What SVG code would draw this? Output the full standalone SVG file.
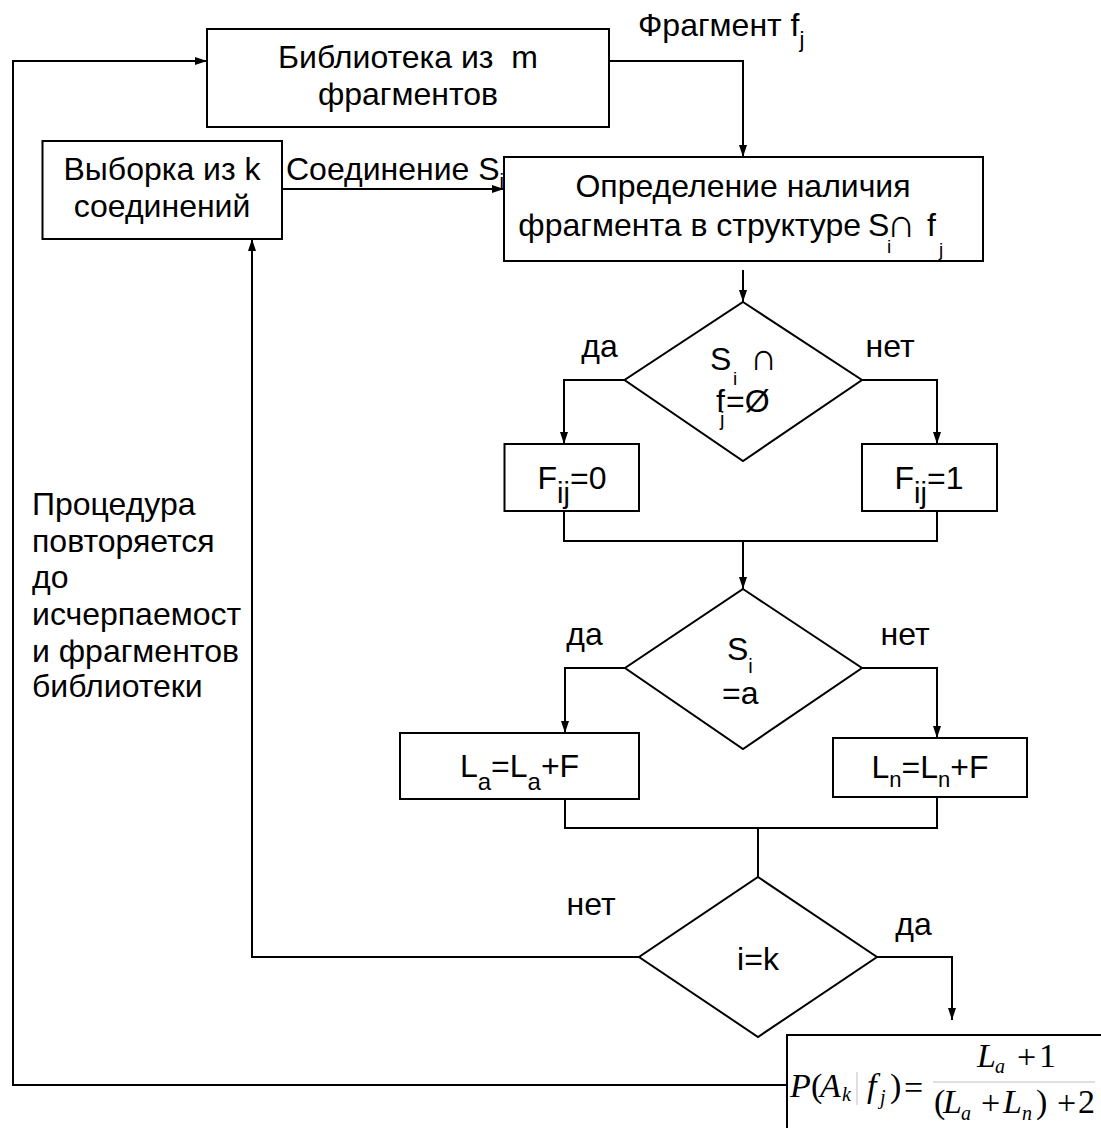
<svg xmlns="http://www.w3.org/2000/svg" width="1101" height="1128" viewBox="0 0 1101 1128">
<defs>
<style>
.box{fill:#fff;stroke:#000;stroke-width:2}
.ln{fill:none;stroke:#000;stroke-width:2}
.t{font-family:"Liberation Sans",Arial,sans-serif;font-size:32px;fill:#000}
.m{text-anchor:middle}
.cap{font-family:"DejaVu Sans",sans-serif;font-weight:200}
.f{font-family:"Liberation Serif","Times New Roman",serif;font-style:italic;font-size:34px;fill:#000}
.fr{font-family:"Liberation Serif","Times New Roman",serif;font-style:normal;font-size:34px;fill:#000}
.fs{font-family:"Liberation Serif","Times New Roman",serif;font-style:italic;font-size:20px;fill:#000}
</style>
<marker id="arr" viewBox="0 0 12 8" refX="12" refY="4" markerWidth="12" markerHeight="8" markerUnits="userSpaceOnUse" orient="auto"><path d="M0,0 L12,4 L0,8 z" fill="#000"/></marker>
</defs>
<rect width="1101" height="1128" fill="#fff"/>
<g id="connectors">
<path class="ln" d="M787,1085 H13 V61 H207" marker-end="url(#arr)"/>
<path class="ln" d="M609,61 H743 V157" marker-end="url(#arr)"/>
<path class="ln" d="M282,189 H504" marker-end="url(#arr)"/>
<path class="ln" d="M743,270 V302" marker-end="url(#arr)"/>
<path class="ln" d="M624.5,380 H564 V444" marker-end="url(#arr)"/>
<path class="ln" d="M862,380 H937 V444" marker-end="url(#arr)"/>
<path class="ln" d="M564,511 V541 H937 V511"/>
<path class="ln" d="M743,541 V589" marker-end="url(#arr)"/>
<path class="ln" d="M625,668 H565 V733" marker-end="url(#arr)"/>
<path class="ln" d="M862,668 H937 V738" marker-end="url(#arr)"/>
<path class="ln" d="M565,799 V828 H937 V797"/>
<path class="ln" d="M758,828 V877"/>
<path class="ln" d="M639,957 H252 V239" marker-end="url(#arr)"/>
<path class="ln" d="M877,957 H952 V1020" marker-end="url(#arr)"/>
<text class="t" x="638" y="36">Фрагмент f<tspan font-size="22" dy="11">j</tspan></text>
<text class="t" font-size="31" x="286" y="180">Соединение S<tspan font-size="20" dy="8">i</tspan></text>
<text class="t m" font-size="31" x="599.5" y="357">да</text>
<text class="t m" font-size="31" x="890" y="357">нет</text>
<text class="t m" font-size="31" x="584.5" y="645">да</text>
<text class="t m" font-size="31" x="905" y="645">нет</text>
<text class="t m" font-size="31" x="591" y="915">нет</text>
<text class="t m" font-size="31" x="913.5" y="935">да</text>
</g>
<g id="label-procedure">
<text class="t" font-size="31" x="32" y="515">Процедура</text>
<text class="t" font-size="31" x="32" y="552">повторяется</text>
<text class="t" font-size="31" x="32" y="588">до</text>
<text class="t" font-size="31" x="32" y="625">исчерпаемост</text>
<text class="t" font-size="31" x="32" y="662">и фрагментов</text>
<text class="t" font-size="31" x="32" y="697">библиотеки</text>
</g>
<g id="library">
<rect class="box" x="207" y="29" width="402" height="98"/>
<text class="t m" x="408" y="68" xml:space="preserve">Библиотека из  m</text>
<text class="t m" x="408" y="105">фрагментов</text>
</g>
<g id="sample">
<rect class="box" x="42.5" y="141" width="239.5" height="98"/>
<text class="t m" x="162" y="180">Выборка из k</text>
<text class="t m" x="162" y="217">соединений</text>
</g>
<g id="detect">
<rect class="box" x="504" y="157" width="479" height="104"/>
<text class="t m" x="743" y="197">Определение наличия</text>
<text class="t" x="861" y="236" text-anchor="end">фрагмента в структуре</text>
<text class="t" x="868" y="236">S<tspan font-size="19" x="887" y="253">i</tspan><tspan class="cap" font-size="40" x="887" y="237">∩</tspan><tspan x="927" y="236">f</tspan><tspan font-size="19" x="939" y="256">j</tspan></text>
</g>
<g id="decision1">
<polygon class="box" points="743,302 862,380 743,461 624.5,380"/>
<text class="t" x="710" y="370">S<tspan font-size="19" x="733" y="385">i</tspan><tspan class="cap" font-size="38" x="750" y="370">∩</tspan></text>
<text class="t" x="716" y="412">f<tspan font-size="20" x="720" y="426">j</tspan><tspan x="726" y="412">=Ø</tspan></text>
</g>
<g id="f0">
<rect class="box" x="504.5" y="444" width="134.5" height="67"/>
<text class="t m" font-size="38" x="572" y="489">F<tspan font-size="29" dy="14">ij</tspan><tspan dy="-14">=0</tspan></text>
</g>
<g id="f1">
<rect class="box" x="862" y="444" width="135" height="67"/>
<text class="t m" font-size="38" x="929" y="489">F<tspan font-size="29" dy="14">ij</tspan><tspan dy="-14">=1</tspan></text>
</g>
<g id="decision2">
<polygon class="box" points="743,589 862,668 743,749 625,668"/>
<text class="t" font-size="35" x="727" y="660">S<tspan font-size="20" dy="13">i</tspan></text>
<text class="t" font-size="35" x="722" y="704">=a</text>
</g>
<g id="la">
<rect class="box" x="400" y="733" width="239" height="66"/>
<text class="t m" font-size="38" x="519.5" y="777">L<tspan font-size="24" dy="13">a</tspan><tspan dy="-13">=L</tspan><tspan font-size="24" dy="13">a</tspan><tspan dy="-13">+F</tspan></text>
</g>
<g id="ln">
<rect class="box" x="833" y="738" width="194" height="59"/>
<text class="t m" font-size="31" x="930" y="778">L<tspan font-size="22" dy="9">n</tspan><tspan dy="-9">=L</tspan><tspan font-size="22" dy="9">n</tspan><tspan dy="-9">+F</tspan></text>
</g>
<g id="decision3">
<polygon class="box" points="758,877 877,957 758,1037 639,957"/>
<text class="t m" font-size="34" x="758" y="970">i=k</text>
</g>
<g id="formula">
<rect x="787" y="1035" width="330" height="110" fill="#fff" stroke="#000" stroke-width="2"/>
<text class="f" x="790" y="1097">P</text>
<text class="fr" x="811" y="1097">(</text>
<text class="f" x="820" y="1097">A</text>
<text class="fs" x="842" y="1101">k</text>
<line x1="857" y1="1072" x2="857" y2="1105" stroke="#c0c0c0" stroke-width="1"/>
<text class="f" x="867" y="1097">f</text>
<text class="fs" x="880" y="1104">j</text>
<text class="fr" x="890" y="1097">)</text>
<text class="fr" font-size="38" x="904" y="1099">=</text>
<line x1="933" y1="1082" x2="1095" y2="1082" stroke="#c0c0c0" stroke-width="1"/>
<text class="f" x="977" y="1067">L</text>
<text class="fs" x="995" y="1073">a</text>
<text class="fr" font-size="36" x="1017" y="1068">+</text>
<text class="fr" x="1039" y="1067">1</text>
<text class="fr" x="934" y="1113">(</text>
<text class="f" x="943" y="1113">L</text>
<text class="fs" x="961" y="1120">a</text>
<text class="fr" font-size="36" x="981" y="1114">+</text>
<text class="f" x="1003" y="1113">L</text>
<text class="fs" x="1022" y="1120">n</text>
<text class="fr" x="1036" y="1113">)</text>
<text class="fr" font-size="36" x="1057" y="1114">+</text>
<text class="fr" x="1078" y="1113">2</text>
</g>
</svg>
